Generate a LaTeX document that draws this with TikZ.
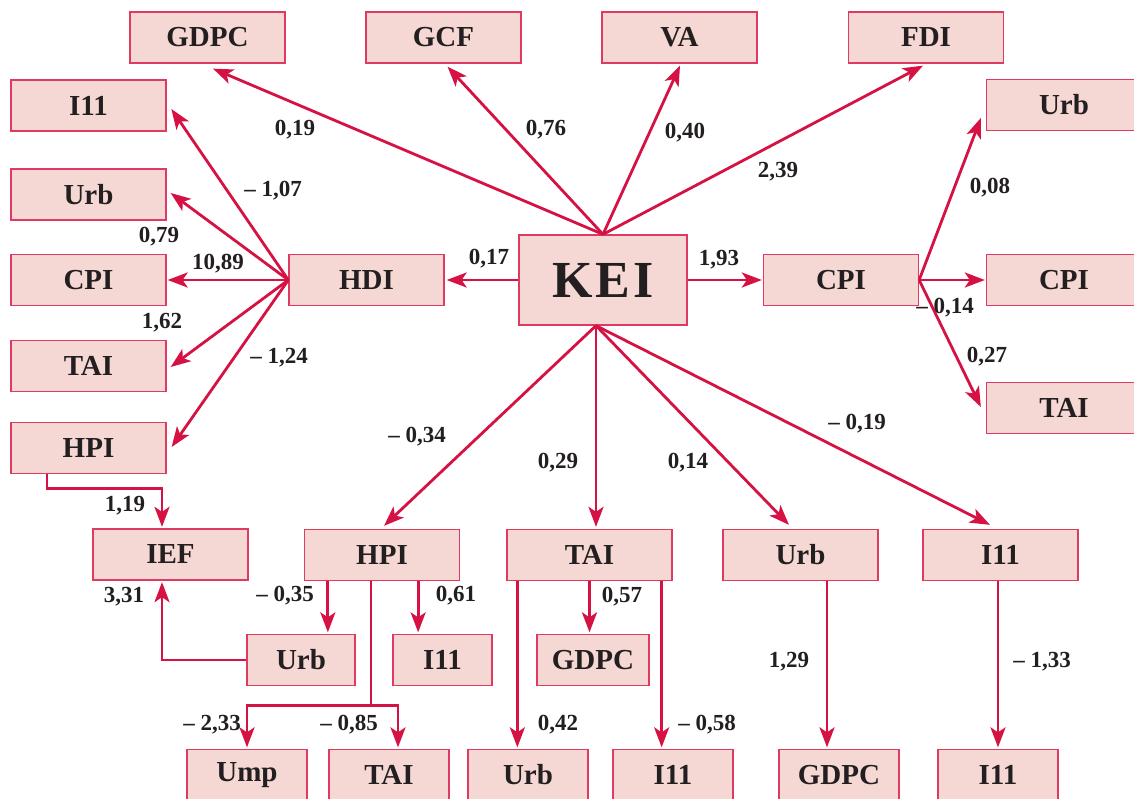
\documentclass[tikz,border=0pt]{standalone}
\usepackage{fontspec}
\setmainfont{Liberation Serif}
\usetikzlibrary{arrows.meta,calc}
\definecolor{boxfill}{RGB}{245,216,211}
\definecolor{boxline}{RGB}{222,58,98}
\definecolor{arrowc}{RGB}{214,18,68}
\definecolor{txt}{RGB}{35,31,32}
\begin{document}
\begin{tikzpicture}[x=1pt,y=-1pt,
 box/.style={draw=boxline,fill=boxfill,line width=1.3pt,minimum height=51pt,minimum width=155pt,inner sep=0pt,font=\fontsize{29}{29}\selectfont\bfseries,text=txt},
 arr/.style={draw=arrowc,line width=2.8pt,-{Stealth[length=20pt,width=15pt,inset=5pt]}},
 ln/.style={draw=arrowc,line width=2.8pt},
 lab/.style={font=\fontsize{23}{23}\selectfont\bfseries,text=txt,inner sep=0pt}]
\clip (0,0) rectangle (1134,799);
\fill[white] (0,0) rectangle (1134,799);
% top row
\node[box] (gdpct) at (207.5,37.5) {GDPC};
\node[box] (gcf) at (443.5,37.5) {GCF};
\node[box] (va) at (679.5,37.5) {VA};
\node[box] (fdi) at (926,37.5) {FDI};
% right column
\node[box] (urbr) at (1064,105) {Urb};
\node[box] (cpir) at (1064,280) {CPI};
\node[box] (tair) at (1064,408) {TAI};
% left column
\node[box] (i11l) at (88.5,105.5) {I11};
\node[box] (urbl) at (88.5,194.5) {Urb};
\node[box] (cpil) at (88.5,280) {CPI};
\node[box] (tail) at (88.5,366) {TAI};
\node[box] (hpil) at (88.5,448) {HPI};
% middle row
\node[box] (hdi) at (366.5,280) {HDI};
\node[box,minimum width=168pt,minimum height=90pt,font=\fontsize{52}{52}\selectfont\bfseries\addfontfeature{LetterSpace=6}] (kei) at (603,280) {KEI};
\node[box] (cpim) at (841,280) {CPI};
% second row
\node[box] (ief) at (170.5,554.5) {IEF};
\node[box] (hpim) at (382,555) {HPI};
\node[box,minimum width=165pt] (taim) at (589.5,555) {TAI};
\node[box] (urbm) at (800.5,555) {Urb};
\node[box] (i11m) at (1000.5,555) {I11};
% third row
\node[box,minimum width=108pt] (urblow) at (301,660) {Urb};
\node[box,minimum width=99pt] (i11low) at (442.5,660) {I11};
\node[box,minimum width=112pt] (gdpclow) at (593,660) {GDPC};
% bottom row
\node[box,minimum width=120pt] (ump) at (247,775) {Ump};
\node[box,minimum width=120pt] (taib) at (389,775) {TAI};
\node[box,minimum width=120pt] (urbb) at (528,775) {Urb};
\node[box,minimum width=120pt] (i11b) at (673,775) {I11};
\node[box,minimum width=120pt] (gdpcb) at (839,775) {GDPC};
\node[box,minimum width=120pt] (i11bb) at (998,775) {I11};
% KEI top arrows
\draw[arr] (kei.north) -- ($(gdpct.south)+(5.5,5)$);
\draw[arr] (kei.north) -- ($(gcf.south)+(4,3)$);
\draw[arr] (kei.north) -- ($(va.south)+(0.5,2)$);
\draw[arr] (kei.north) -- ($(fdi.south)+(-3,2)$);
% KEI sides
\draw[arr] (kei.west) -- ($(hdi.east)+(2,0)$);
\draw[arr] (kei.east) -- ($(cpim.west)+(-1,0)$);
% HDI fan
\draw[arr] (hdi.west) -- ($(i11l.east)+(4.7,3.5)$);
\draw[arr] (hdi.west) -- ($(urbl.east)+(4,-1.5)$);
\draw[arr] (hdi.west) -- ($(cpil.east)+(1,0)$);
\draw[arr] (hdi.west) -- ($(tail.east)+(4,1)$);
\draw[arr] (hdi.west) -- ($(hpil.east)+(5,-1)$);
% CPI mid fan
\draw[arr] (cpim.east) -- ($(urbr.west)+(-5,13)$);
\draw[arr] (cpim.east) -- ($(cpir.west)+(-1,0)$);
\draw[arr] (cpim.east) -- ($(tair.west)+(-5,-1)$);
% KEI bottom arrows
\coordinate (kb) at ($(kei.south)+(-7,0)$);
\draw[arr] (kb) -- ($(hpim.north)+(2,-3)$);
\draw[arr] (kb) -- ($(kb |- taim.north)+(0,-2)$);
\draw[arr] (kb) -- ($(urbm.north)+(-11.5,-4)$);
\draw[arr] (kb) -- ($(i11m.north)+(-10.5,-4)$);
% HPI left -> IEF
\draw[arr] ($(hpil.south)+(-41.5,0)$) |- ($(ief.north)+(-8.5,-40)$) -- ($(ief.north)+(-8.5,-1.5)$);
% Urb low -> IEF
\draw[arr] (urblow.west) -| ($(ief.south)+(-8.5,1.5)$);
% HPI mid
\coordinate (h1) at ($(hpim.south west)+(24,0)$);
\coordinate (h2) at ($(hpim.south east)+(-42,0)$);
\draw[arr] (h1) -- ($(h1 |- urblow.north)+(0,-1.5)$);
\draw[arr] (h2) -- ($(h2 |- i11low.north)+(0,-1.5)$);
\coordinate (hj) at ($(hpim.south)+(-11,124)$);
\draw[ln] ($(hpim.south)+(-11,0)$) -- (hj);
\draw[arr] (hj) -| ($(ump.north)+(0,-1.5)$);
\draw[arr] (hj) -| ($(taib.north)+(9,-1.5)$);
% TAI mid
\coordinate (t1) at ($(taim.south west)+(11,0)$);
\coordinate (t3) at ($(taim.south east)+(-11,0)$);
\draw[arr] (t1) -- ($(t1 |- urbb.north)+(0,-1.5)$);
\draw[arr] (taim.south) -- ($(taim.south |- gdpclow.north)+(0,-1.5)$);
\draw[arr] (t3) -- ($(t3 |- i11b.north)+(0,-1.5)$);
% Urb mid, I11 mid
\coordinate (u1) at ($(urbm.south)+(26.5,0)$);
\draw[arr] (u1) -- ($(u1 |- gdpcb.north)+(0,-1.5)$);
\draw[arr] (i11bb.north |- i11m.south) -- ($(i11bb.north)+(0,-1.5)$);
% labels
\node[lab] (l1) at (295,130) {0,19};
\node[lab] (l2) at (546,130) {0,76};
\node[lab] (l3) at (685,133) {0,40};
\node[lab] (l4) at (778,172) {2,39};
\node[lab] (l5) at (990,188) {0,08};
\node[lab] (l6) at (273,191) {\textendash\ 1,07};
\node[lab] (l7) at (159,237) {0,79};
\node[lab] (l8) at (218,264) {10,89};
\node[lab] (l9) at (489,259) {0,17};
\node[lab] (l10) at (719,260) {1,93};
\node[lab] (l11) at (162,323) {1,62};
\node[lab] (l12) at (945,308) {\textendash\ 0,14};
\node[lab] (l13) at (279,358) {\textendash\ 1,24};
\node[lab] (l14) at (987,357) {0,27};
\node[lab] (l15) at (857,424) {\textendash\ 0,19};
\node[lab] (l16) at (417,437) {\textendash\ 0,34};
\node[lab] (l17) at (558,463) {0,29};
\node[lab] (l18) at (688,463) {0,14};
\node[lab] (l19) at (125,506) {1,19};
\node[lab] (l20) at (124,597) {3,31};
\node[lab] (l21) at (285,596) {\textendash\ 0,35};
\node[lab] (l22) at (456,596) {0,61};
\node[lab] (l23) at (622,597) {0,57};
\node[lab] (l24) at (789,662) {1,29};
\node[lab] (l25) at (1042,662) {\textendash\ 1,33};
\node[lab] (l26) at (212,725) {\textendash\ 2,33};
\node[lab] (l27) at (349,725) {\textendash\ 0,85};
\node[lab] (l28) at (558,725) {0,42};
\node[lab] (l29) at (707,725) {\textendash\ 0,58};
\end{tikzpicture}
\end{document}
